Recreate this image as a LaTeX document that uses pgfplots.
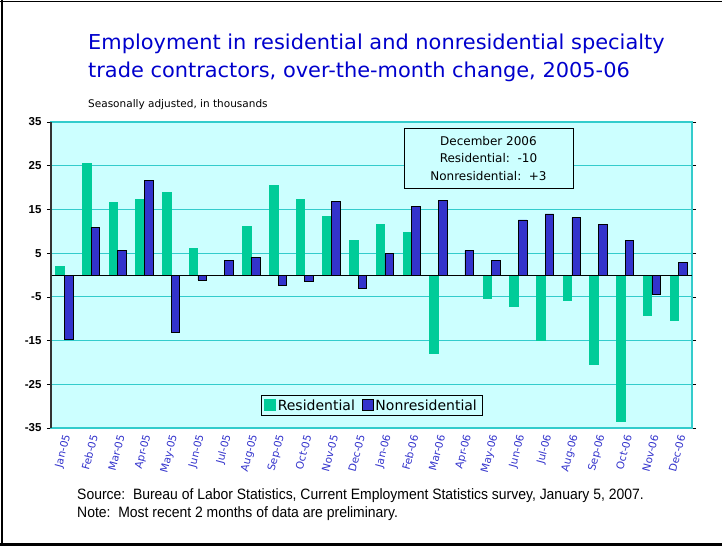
\documentclass[border=0pt]{standalone}
\usepackage{fontspec}
\setmainfont{Liberation Sans}
\newfontfamily\titlefont[FakeStretch=1.02]{DejaVu Sans}
\newfontfamily\plainfont{DejaVu Sans}
\newfontfamily\narrowfont[FakeStretch=0.93]{Liberation Sans}
\usepackage{pgfplots}
\pgfplotsset{compat=1.18}

\definecolor{resgreen}{HTML}{00CC99}
\definecolor{nonresblue}{HTML}{3333CC}
\definecolor{plotbg}{HTML}{CCFFFF}
\definecolor{gridteal}{HTML}{33CCCC}
\definecolor{titleblue}{HTML}{0000CC}

\begin{document}
\begin{tikzpicture}
\useasboundingbox (0pt,0pt) rectangle (722pt,-546pt);
% outer frame (top, left, bottom)
\draw[line width=1pt] (0pt,-1pt) -- (722pt,-1pt);
\draw[line width=2pt] (2pt,0pt) -- (2pt,-546pt);
\draw[line width=3pt] (0pt,-544.5pt) -- (722pt,-544.5pt);

% titles
\node[anchor=base west, inner sep=0pt, text=titleblue, font=\titlefont\fontsize{20.5}{24}\selectfont]
  at (88pt,-49pt) {Employment in residential and nonresidential specialty};
\node[anchor=base west, inner sep=0pt, text=titleblue, font=\titlefont\fontsize{20.5}{24}\selectfont]
  at (88pt,-77pt) {trade contractors, over-the-month change, 2005-06};
\node[anchor=base west, inner sep=0pt, font=\plainfont\fontsize{10.5}{12}\selectfont]
  at (88pt,-107pt) {Seasonally adjusted, in thousands};

% footnotes
\node[anchor=base west, inner sep=0pt, font=\narrowfont\fontsize{15}{17}\selectfont]
  at (77pt,-499pt) {Source:\ \ Bureau of Labor Statistics, Current Employment Statistics survey, January 5, 2007.};
\node[anchor=base west, inner sep=0pt, font=\narrowfont\fontsize{15}{17}\selectfont]
  at (77pt,-517pt) {Note:\ \ Most recent 2 months of data are preliminary.};

\begin{axis}[
    at={(51pt,-428pt)}, anchor=south west,
    scale only axis,
    width=641pt, height=306pt,
    xmin=-0.5, xmax=23.5,
    ymin=-35, ymax=35,
    ybar=0pt,
    bar width=0.32,
    axis background/.style={fill=plotbg},
    axis line style={gridteal, line width=1.2pt},
    ymajorgrids,
    grid style={gridteal, line width=0.9pt},
    ytick={-35,-25,-15,-5,5,15,25,35},
    yticklabels={-35,-25,-15,-5,5,15,25,35},
    yticklabel style={font=\bfseries\fontsize{11.5}{13}\selectfont, xshift=-2pt},
    ytick style={black, line width=0.6pt},
    tick align=outside,
    major tick length=4pt,
    xtick={0,...,23},
    xticklabels={Jan-05,Feb-05,Mar-05,Apr-05,May-05,Jun-05,Jul-05,Aug-05,Sep-05,Oct-05,Nov-05,Dec-05,
                 Jan-06,Feb-06,Mar-06,Apr-06,May-06,Jun-06,Jul-06,Aug-06,Sep-06,Oct-06,Nov-06,Dec-06},
    xticklabel style={rotate=75, anchor=east, text=nonresblue,
                      font=\plainfont\fontsize{10.5}{12}\selectfont, inner sep=1pt, yshift=-4pt, xshift=-1pt},
    xtick style={draw=none},
    legend style={at={(0.5,0.0735)}, anchor=center, legend columns=2,
                  fill=plotbg, draw=black, line width=0.6pt,
                  font=\plainfont\fontsize{14}{16}\selectfont,
                  inner ysep=2pt,
                  /tikz/every even column/.append style={column sep=5pt}},
    legend image code/.code={\draw[#1, line width=0.6pt] (0pt,-5pt) rectangle (11pt,6pt);},
    clip=false,
]
\addplot[fill=resgreen, draw=resgreen, line width=0pt, bar shift=-0.16] coordinates {
 (0,2.0) (1,25.6) (2,16.5) (3,17.2) (4,18.8) (5,6.0) (6,-0.2) (7,11.0)
 (8,20.4) (9,17.2) (10,13.3) (11,7.8) (12,11.5) (13,9.8) (14,-18.0) (15,0.0)
 (16,-5.4) (17,-7.3) (18,-15.0) (19,-5.9) (20,-20.5) (21,-33.4) (22,-9.3) (23,-10.5)
};
\addlegendentry{Residential}
\addplot[fill=nonresblue, draw=black, line width=0.6pt, bar shift=0.16] coordinates {
 (0,-14.7) (1,10.9) (2,5.6) (3,21.7) (4,-13.1) (5,-1.1) (6,3.4) (7,4.0)
 (8,-2.4) (9,-1.5) (10,16.9) (11,-3.0) (12,5.0) (13,15.7) (14,17.0) (15,5.6)
 (16,3.4) (17,12.6) (18,14.0) (19,13.1) (20,11.6) (21,7.9) (22,-4.4) (23,2.9)
};
\addlegendentry{Nonresidential}
% zero line and left axis
\draw[black, line width=0.8pt] (rel axis cs:0,0.5) -- (rel axis cs:1,0.5);
\draw[black!80, line width=1.2pt] (rel axis cs:0,0) -- (rel axis cs:0,1);
% annotation box
\node[draw=black, line width=0.6pt, fill=plotbg, align=center,
      minimum width=169pt, minimum height=60pt, inner sep=2pt,
      font=\plainfont\fontsize{12}{17.5}\selectfont]
  at (rel axis cs:0.6825,0.882)
  {December 2006\\Residential:\ \ -10\\Nonresidential:\ \ +3};
\end{axis}
\end{tikzpicture}
\end{document}
